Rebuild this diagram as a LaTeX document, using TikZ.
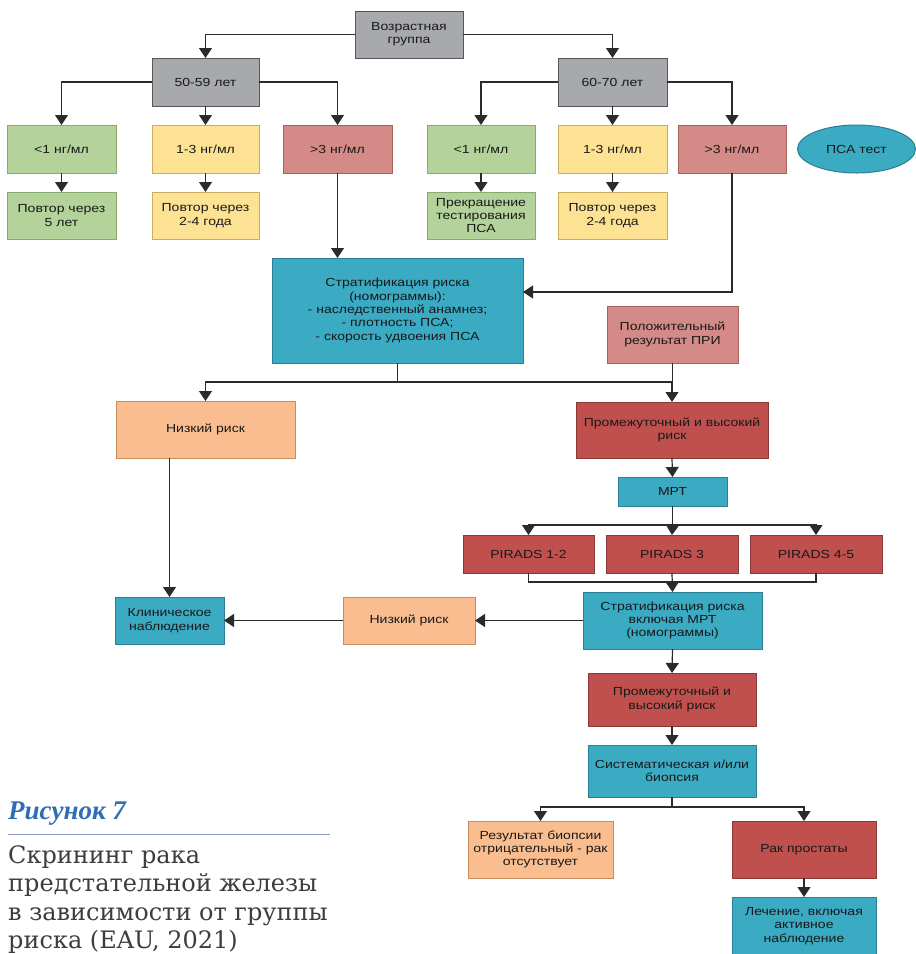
\documentclass[tikz,border=0pt]{standalone}
\usepackage{fontspec}
\setmainfont{Liberation Sans}[FakeStretch=1.2]
\newfontfamily\capfont{DejaVu Serif}
\newfontfamily\figfont{Liberation Serif}
\usetikzlibrary{arrows.meta,shapes.geometric,calc}
\definecolor{cgray}{HTML}{A7A9AC}
\definecolor{cgrayb}{HTML}{555759}
\definecolor{cgreen}{HTML}{B3D39B}
\definecolor{cgreenb}{HTML}{88AA6C}
\definecolor{cyel}{HTML}{FEE294}
\definecolor{cyelb}{HTML}{C9AE62}
\definecolor{cpink}{HTML}{D48B87}
\definecolor{cpinkb}{HTML}{A6625E}
\definecolor{cteal}{HTML}{3BAAC3}
\definecolor{ctealb}{HTML}{2A7F94}
\definecolor{csalm}{HTML}{F9BD8F}
\definecolor{csalmb}{HTML}{C58D5E}
\definecolor{cred}{HTML}{C0504D}
\definecolor{credb}{HTML}{8C3836}
\definecolor{cline}{HTML}{2B2B2B}
\definecolor{capblue}{HTML}{2F6DB5}
\definecolor{caprule}{HTML}{8C9BCB}
\definecolor{captext}{HTML}{3D3D3D}
\begin{document}
\begin{tikzpicture}[x=1pt,y=-1pt,
  box/.style={rectangle, draw, line width=1pt, inner sep=0pt, outer sep=0pt, align=center,
    font=\fontsize{11.7}{13.3}\selectfont, text=black!90},
  gbox/.style={box, fill=cgray, draw=cgrayb},
  grbox/.style={box, fill=cgreen, draw=cgreenb},
  ybox/.style={box, fill=cyel, draw=cyelb},
  pbox/.style={box, fill=cpink, draw=cpinkb},
  tbox/.style={box, fill=cteal, draw=ctealb},
  sbox/.style={box, fill=csalm, draw=csalmb},
  rbox/.style={box, fill=cred, draw=credb},
  sz/.style 2 args={minimum width=#1pt, minimum height=#2pt},
  arr/.style={draw=cline, line width=1.2pt, -{Triangle[width=13pt,length=10pt]}},
  ln/.style={draw=cline, line width=1.2pt},
  capline/.style={anchor=base west, text=captext, font=\capfont\fontsize{24}{28}\selectfont, inner sep=0pt},
]
\useasboundingbox (0,0) rectangle (916,954);
\fill[white] (0,0) rectangle (916,954);

% nodes
\node[gbox, sz={108}{47}] (age) at (409,34.5) {Возрастная\\группа};
\node[gbox, sz={107}{48}] (g5059) at (205.5,82) {50-59 лет};
\node[gbox, sz={109}{48}] (g6070) at (612.5,82) {60-70 лет};
\node[grbox, sz={109}{48}] (a1) at (61.5,149) {<1 нг/мл};
\node[ybox, sz={107}{48}] (a2) at (205.5,149) {1-3 нг/мл};
\node[pbox, sz={109}{48}] (a3) at (337.5,149) {>3 нг/мл};
\node[grbox, sz={108}{48}] (b1) at (481,149) {<1 нг/мл};
\node[ybox, sz={109}{48}] (b2) at (612.5,149) {1-3 нг/мл};
\node[pbox, sz={108}{48}] (b3) at (732,149) {>3 нг/мл};
\node[ellipse, draw=ctealb, fill=cteal, line width=1pt, inner sep=0pt, minimum width=118pt, minimum height=48pt,
  font=\fontsize{11.7}{13.3}\selectfont, text=black!90] (psa) at (856.5,149) {ПСА тест};
\node[grbox, sz={109}{47}] (a1r) at (61.5,215.5) {Повтор через\\5 лет};
\node[ybox, sz={107}{47}] (a2r) at (205.5,215.5) {Повтор через\\2-4 года};
\node[grbox, sz={108}{47}] (b1r) at (481,215.5) {Прекращение\\тестирования\\ПСА};
\node[ybox, sz={109}{47}] (b2r) at (612.5,215.5) {Повтор через\\2-4 года};
\node[tbox, sz={251}{105}] (strat) at (397.5,310.5) {Стратификация риска\\(номограммы):\\- наследственный анамнез;\\- плотность ПСА;\\- скорость удвоения ПСА};
\node[pbox, sz={131}{57}] (pri) at (672.5,334.5) {Положительный\\результат ПРИ};
\node[sbox, sz={179}{57}] (low1) at (205.5,429.5) {Низкий риск};
\node[rbox, sz={192}{56}] (mid1) at (672,430) {Промежуточный и высокий\\риск};
\node[tbox, sz={109}{29}] (mri) at (672.5,491.5) {МРТ};
\node[rbox, sz={131}{38}] (pir1) at (528.5,554) {PIRADS 1-2};
\node[rbox, sz={132}{38}] (pir2) at (672,554) {PIRADS 3};
\node[rbox, sz={132}{38}] (pir3) at (816,554) {PIRADS 4-5};
\node[tbox, sz={109}{47}] (clin) at (169.5,620.5) {Клиническое\\наблюдение};
\node[sbox, sz={132}{47}] (low2) at (409,620.5) {Низкий риск};
\node[tbox, sz={179}{57}] (strat2) at (672.5,620.5) {Стратификация риска\\включая МРТ\\(номограммы)};
\node[rbox, sz={168}{53}] (mid2) at (672,699.5) {Промежуточный и\\высокий риск};
\node[tbox, sz={168}{52}] (sys) at (672,771) {Систематическая и/или\\биопсия};
\node[sbox, sz={145}{57}] (neg) at (540.5,849.5) {Результат биопсии\\отрицательный - рак\\отсутствует};
\node[rbox, sz={144}{57}] (cancer) at (804,849.5) {Рак простаты};
\node[tbox, sz={144}{58}] (treat) at (804,926) {Лечение, включая\\активное\\наблюдение};

% connectors
\draw[arr] (age.west) -| (g5059.north);
\draw[arr] (age.east) -| (g6070.north);
\draw[arr] (g5059.west) -| (a1.north);
\draw[arr] (g5059.south) -- (a2.north);
\draw[arr] (g5059.east) -| (a3.north);
\draw[arr] (g6070.west) -| (b1.north);
\draw[arr] (g6070.south) -- (b2.north);
\draw[arr] (g6070.east) -| (b3.north);
\draw[arr] (a1.south) -- (a1r.north);
\draw[arr] (a2.south) -- (a2r.north);
\draw[arr] (b1.south) -- (b1r.north);
\draw[arr] (b2.south) -- (b2r.north);
\draw[arr] (a3.south) -- (a3.south |- strat.north);
\draw[arr] (b3.south) |- ($(strat.east)+(0,-18.5)$);
\coordinate (j1) at ($(strat.south)+(0,19)$);
\draw[arr] (strat.south) -- (j1) -| (low1.north);
\draw[arr] (j1) -| (mid1.north);
\draw[ln] (pri.south) -- (pri.south |- j1);
\draw[arr] (clin.north |- low1.south) -- (clin.north);
\draw[arr] (mid1.south) -- (mri.north);
\coordinate (j2) at ($(mri.south)+(0,19)$);
\draw[arr] (mri.south) -- (j2) -| (pir1.north);
\draw[arr] (j2) -| (pir3.north);
\draw[arr] (j2) -- (pir2.north);
\coordinate (j3) at ($(pir2.south)+(0,9)$);
\draw[ln] (pir1.south) |- (j3) -| (pir3.south);
\draw[arr] (pir2.south) -- (strat2.north);
\draw[arr] (strat2.west) -- (low2.east);
\draw[arr] (low2.west) -- (clin.east);
\draw[arr] (strat2.south) -- (mid2.north);
\draw[arr] (mid2.south) -- (sys.north);
\coordinate (j4) at ($(sys.south)+(0,10)$);
\draw[arr] (sys.south) -- (j4) -| (neg.north);
\draw[arr] (j4) -| (cancer.north);
\draw[arr] (cancer.south) -- (treat.north);

% caption
\node[anchor=base west, inner sep=0pt, text=capblue, font=\figfont\bfseries\itshape\fontsize{27}{30}\selectfont] (fig) at (8,819) {Рисунок 7};
\draw[caprule, line width=1pt] (8,834) -- (330,834);
\node[capline] (c1) at (8,863) {Скрининг рака};
\node[capline] (c2) at (8,891.5) {предстательной железы};
\node[capline] (c3) at (8,920) {в зависимости от группы};
\node[capline] (c4) at (8,948) {риска (EAU, 2021)};
\end{tikzpicture}
\end{document}
